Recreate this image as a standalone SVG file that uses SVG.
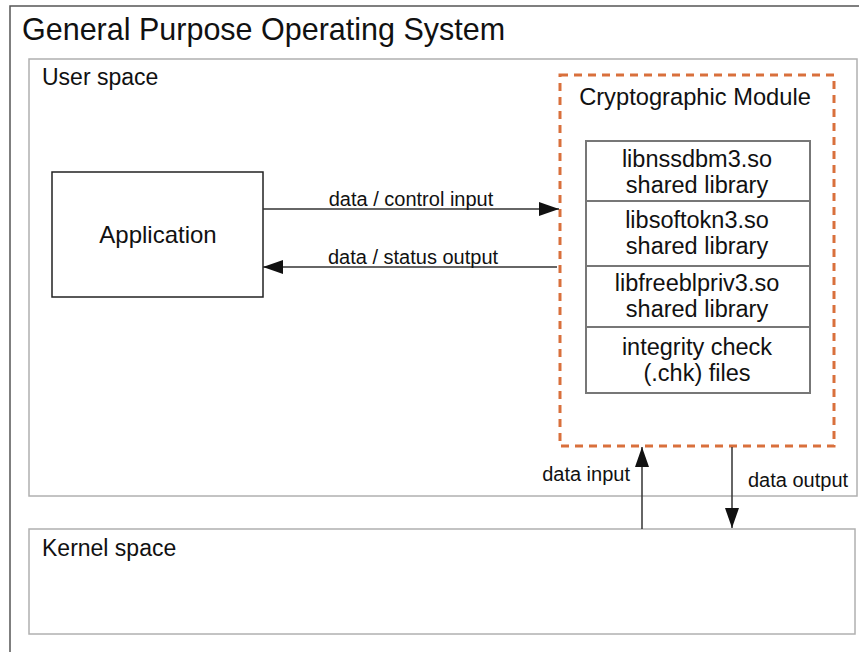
<svg xmlns="http://www.w3.org/2000/svg" width="859" height="652" viewBox="0 0 859 652">
<style>
text{font-family:"Liberation Sans",Arial,sans-serif;fill:#111}
.t{font-size:30.5px}
.s{font-size:23px}
.lib{font-size:23.5px;text-anchor:middle}
.lbl{font-size:20px}
.frame{fill:none;stroke:#555;stroke-width:1.5}
.space{fill:#fff;stroke:#b0b0b0;stroke-width:1.5}
.cm{fill:none;stroke:#d9703c;stroke-width:3;stroke-dasharray:8 6}
.libbox{fill:#fff;stroke:#777;stroke-width:2}
.app{fill:#fff;stroke:#222;stroke-width:1.5}
.conn{stroke:#333;stroke-width:1.5;fill:none}
</style>
<defs>
<marker id="ah" viewBox="0 0 20 14" refX="20" refY="7" markerWidth="20" markerHeight="14" markerUnits="userSpaceOnUse" orient="auto">
<path d="M0,0 L20,7 L0,14 Z" fill="#111"/>
</marker>
</defs>
<rect width="859" height="652" fill="#fff"/>
<g id="os">
<path class="frame" d="M10,652 V6 H859"/>
<text class="t" x="22" y="40">General Purpose Operating System</text>
</g>
<g id="user-space">
<rect class="space" x="29" y="59" width="828" height="437"/>
<text class="s" x="42" y="85">User space</text>
</g>
<g id="kernel-space">
<rect class="space" x="29" y="529" width="826" height="105"/>
<text class="s" x="42" y="556">Kernel space</text>
</g>
<g id="application">
<rect class="app" x="52" y="172" width="211" height="125"/>
<text class="s" x="158" y="243" text-anchor="middle" style="font-size:24px">Application</text>
</g>
<g id="crypto-module">
<rect class="cm" x="560" y="75" width="274" height="371"/>
<text class="s" x="695" y="105" text-anchor="middle" style="font-size:23.7px">Cryptographic Module</text>
</g>
<g id="libnssdbm3">
<rect class="libbox" x="586" y="141" width="224" height="60"/>
<text class="lib" x="697" y="167">libnssdbm3.so</text>
<text class="lib" x="697" y="193">shared library</text>
</g>
<g id="libsoftokn3">
<rect class="libbox" x="586" y="201" width="224" height="65"/>
<text class="lib" x="697" y="228">libsoftokn3.so</text>
<text class="lib" x="697" y="254">shared library</text>
</g>
<g id="libfreeblpriv3">
<rect class="libbox" x="586" y="266" width="224" height="61"/>
<text class="lib" x="697" y="291">libfreeblpriv3.so</text>
<text class="lib" x="697" y="317">shared library</text>
</g>
<g id="integrity-check">
<rect class="libbox" x="586" y="327" width="224" height="66"/>
<text class="lib" x="697" y="355">integrity check</text>
<text class="lib" x="697" y="381">(.chk) files</text>
</g>
<g id="connectors">
<line class="conn" x1="263" y1="209" x2="559" y2="209" marker-end="url(#ah)"/>
<line class="conn" x1="557" y1="267" x2="263" y2="267" marker-end="url(#ah)"/>
<line class="conn" x1="642" y1="529" x2="642" y2="447" marker-end="url(#ah)"/>
<line class="conn" x1="732" y1="447" x2="732" y2="528" marker-end="url(#ah)"/>
<text class="lbl" x="411" y="206" text-anchor="middle">data / control input</text>
<text class="lbl" x="413" y="264" text-anchor="middle">data / status output</text>
<text class="lbl" x="630" y="481" text-anchor="end">data input</text>
<text class="lbl" x="748" y="487">data output</text>
</g>
</svg>
